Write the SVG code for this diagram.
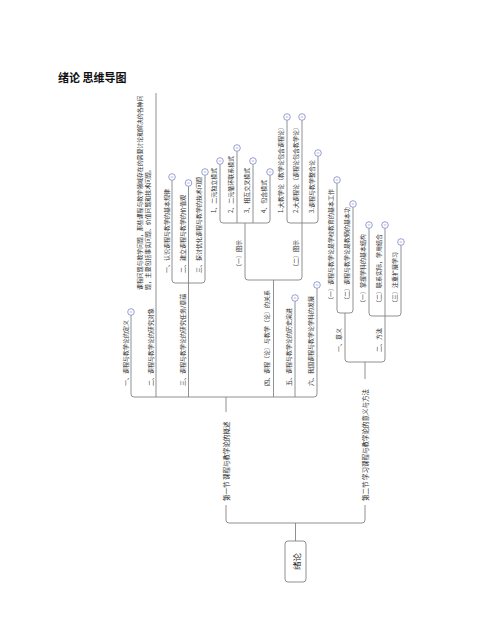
<svg xmlns="http://www.w3.org/2000/svg" width="500" height="633" viewBox="0 0 500 633">
<style>
text{font-family:"Noto Sans CJK SC","Noto Sans",sans-serif;fill:#2a2a2a;dominant-baseline:central}
.t{font-size:6px}
.l1{font-size:6.5px}
.c path{fill:none;stroke:#858585;stroke-width:0.9}
</style>
<defs>
<g id="mk"><circle r="3.3" fill="#fff" stroke="#7f84c6" stroke-width="0.8"/><line x1="-1.3" y1="0" x2="1.3" y2="0" stroke="#7f84c6" stroke-width="0.6"/></g>
</defs>
<rect width="500" height="633" fill="#fff"/>
<text x="58" y="77" style="font-size:11px;font-weight:bold;fill:#111">绪论 思维导图</text>

<g id="connectors" class="c">
<path d="M295.5 541 V523"/>
<path d="M226 505 V520 Q226 523 229 523 H362 Q365 523 365 520 V505"/>
<path d="M226 412 V397"/>
<path d="M131 315.3 V394 Q131 397 134 397 H314 Q317 397 317 394 V288.3"/>
<path d="M156 397 V93"/>
<path d="M188.5 397 V186.3"/>
<path d="M172 180.3 V280 Q172 283 175 283 H202 Q205 283 205 280 V175.3"/>
<path d="M273.5 397 V280"/>
<path d="M245 223 V277 Q245 280 248 280 H299 Q302 280 302 277 V223"/>
<path d="M220 164.3 V220 Q220 223 223 223 H267 Q270 223 270 220 V175.3"/>
<path d="M237 223 V151.3"/>
<path d="M253 223 V164.3"/>
<path d="M287 120.3 V220 Q287 223 290 223 H315 Q318 223 318 220 V156.3"/>
<path d="M302 223 V120.3"/>
<path d="M295 397 V301.3"/>
<path d="M365 379 V362"/>
<path d="M345 313 V359 Q345 362 348 362 H382 Q385 362 385 359 V316"/>
<path d="M337 183.3 V310 Q337 313 340 313 H350 Q353 313 353 310 V207.3"/>
<path d="M369 228.3 V313 Q369 316 372 316 H398 Q401 316 401 313 V245.3"/>
<path d="M385 316 V228.3"/>
</g>

<g id="markers">
<use href="#mk" x="131" y="312"/>
<use href="#mk" x="172" y="177"/>
<use href="#mk" x="188.5" y="183"/>
<use href="#mk" x="205" y="172"/>
<use href="#mk" x="220" y="161"/>
<use href="#mk" x="237" y="148"/>
<use href="#mk" x="253" y="161"/>
<use href="#mk" x="270" y="172"/>
<use href="#mk" x="287" y="117"/>
<use href="#mk" x="302" y="117"/>
<use href="#mk" x="318" y="153"/>
<use href="#mk" x="295" y="298"/>
<use href="#mk" x="317" y="285"/>
<use href="#mk" x="337" y="180"/>
<use href="#mk" x="353" y="204"/>
<use href="#mk" x="369" y="225"/>
<use href="#mk" x="385" y="225"/>
<use href="#mk" x="401" y="242"/>
</g>

<g id="root">
<rect x="285" y="541" width="21" height="41" rx="3" fill="#fff" stroke="#858585" stroke-width="0.9"/>
<text transform="translate(295.5,561.5) rotate(-90)" text-anchor="middle" style="font-size:8.5px">绪论</text>
</g>

<g id="sec1"><text class="l1" transform="translate(226,501) rotate(-90)">第一节 课程与教学论的概述</text></g>
<g id="sec2"><text class="l1" transform="translate(365,501) rotate(-90)">第二节 学习课程与教学论的意义与方法</text></g>

<g id="s1-1"><text class="t" transform="translate(125,386) rotate(-90)">一、课程与教学论的定义</text></g>
<g id="s1-2"><text class="t" transform="translate(150,386) rotate(-90)">二、课程与教学论的研究对象</text></g>
<g id="s1-2-1">
<text transform="translate(139,290) rotate(-90)" style="font-size:5.9px">课程问题与教学问题，那些课程与教学领域存在的需要讨论和解决的各种问</text>
<text transform="translate(147,290) rotate(-90)" style="font-size:5.9px">题，主要包括事实问题、价值问题和技术问题。</text>
</g>
<g id="s1-3"><text class="t" transform="translate(182,386) rotate(-90)">三、课程与教学论的研究任务/意蕴</text></g>
<g id="s1-3-1"><text class="t" transform="translate(166,273) rotate(-90)">一、认识课程与教学的基本规律</text></g>
<g id="s1-3-2"><text class="t" transform="translate(182,273) rotate(-90)">二、建立课程与教学的价值观</text></g>
<g id="s1-3-3"><text class="t" transform="translate(198.5,273) rotate(-90)">三、探讨优化课程与教学的技术问题</text></g>
<g id="s1-4"><text class="t" transform="translate(266.5,386) rotate(-90)">四、课程（论）与教学（论）的关系</text></g>
<g id="s1-4-1"><text class="t" transform="translate(238.5,270) rotate(-90)">（一）图示</text></g>
<g id="s1-4-1-1"><text class="t" transform="translate(213.5,213) rotate(-90)">1、二元独立模式</text></g>
<g id="s1-4-1-2"><text class="t" transform="translate(230.5,213) rotate(-90)">2、二元循环联系模式</text></g>
<g id="s1-4-1-3"><text class="t" transform="translate(246.5,213) rotate(-90)">3、相互交叉模式</text></g>
<g id="s1-4-1-4"><text class="t" transform="translate(263.5,213) rotate(-90)">4、包含模式</text></g>
<g id="s1-4-2"><text class="t" transform="translate(295.5,270) rotate(-90)">（二）图示</text></g>
<g id="s1-4-2-1"><text class="t" transform="translate(280.5,213) rotate(-90)">1.大教学论（教学论包含课程论）</text></g>
<g id="s1-4-2-2"><text class="t" transform="translate(295.5,213) rotate(-90)">2.大课程论（课程论包含教学论）</text></g>
<g id="s1-4-2-3"><text class="t" transform="translate(311.5,213) rotate(-90)">3.课程与教学整合论</text></g>
<g id="s1-5"><text class="t" transform="translate(288.5,386) rotate(-90)">五、课程与教学论的历史演进</text></g>
<g id="s1-6"><text class="t" transform="translate(310.5,386) rotate(-90)">六、我国课程与教学论学科的发展</text></g>

<g id="s2-1"><text class="t" transform="translate(338.5,352) rotate(-90)">一、意义</text></g>
<g id="s2-1-1"><text class="t" transform="translate(330.5,303) rotate(-90)">（一）课程与教学论是学校教育的基本工作</text></g>
<g id="s2-1-2"><text class="t" transform="translate(346.5,303) rotate(-90)">（二）课程与教学论是教师的基本功</text></g>
<g id="s2-2"><text class="t" transform="translate(378.5,352) rotate(-90)">二、方法</text></g>
<g id="s2-2-1"><text class="t" transform="translate(362.5,306) rotate(-90)">（一）掌握学科的基本结构</text></g>
<g id="s2-2-2"><text class="t" transform="translate(378.5,306) rotate(-90)">（二）联系实际，学用结合</text></g>
<g id="s2-2-3"><text class="t" transform="translate(394.5,306) rotate(-90)">（三）注重扩展学习</text></g>
</svg>
